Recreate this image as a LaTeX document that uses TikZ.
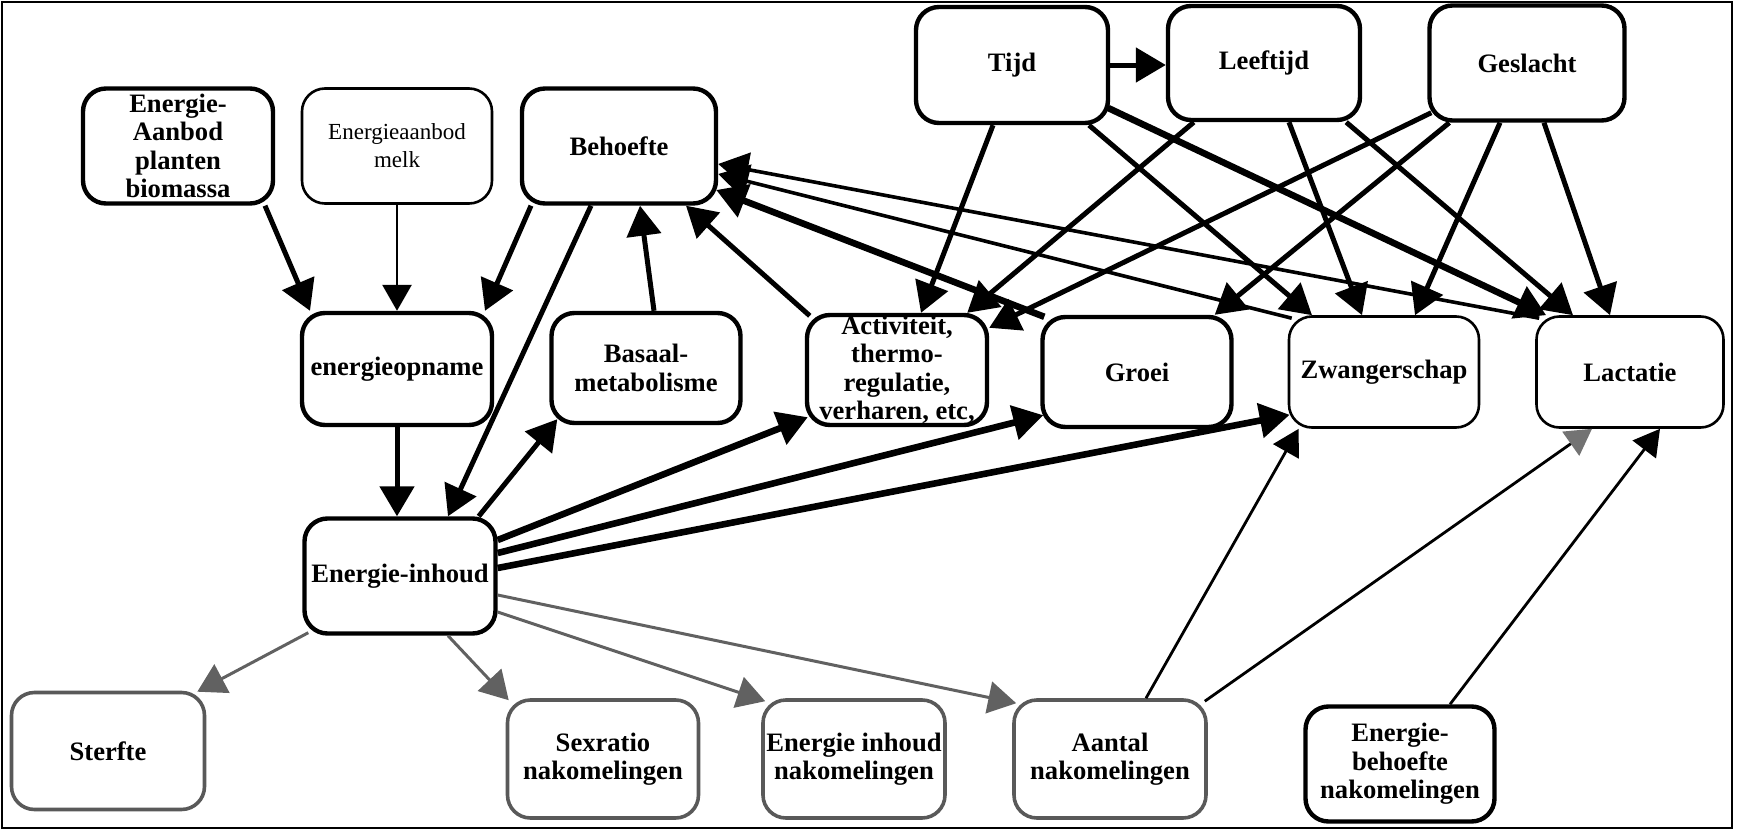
\documentclass[tikz,border=0pt]{standalone}
\usepackage{fontspec}
\setmainfont{Liberation Serif}
\usetikzlibrary{arrows.meta,calc}

\tikzset{
  box/.style={draw, rounded corners=11.5pt, line width=2.2pt,
    minimum width=95pt, minimum height=57.5pt, inner sep=0pt, align=center,
    font=\fontsize{13.3}{14.2}\selectfont\bfseries},
  thinbox/.style={box, line width=1.3pt},
  greybox/.style={box, draw=black!65, line width=1.8pt},
  bigtip/.style={-{Triangle[length=15pt,width=17pt]}},
  smalltip/.style={-{Triangle[length=13pt,width=14.5pt]}},
  thick link/.style={bigtip, line width=2.5pt},
  heavy link/.style={bigtip, line width=3.3pt},
  medium link/.style={bigtip, line width=1.8pt},
  thin link/.style={smalltip, line width=1.4pt},
  grey link/.style={draw=black!62, line width=1.5pt,
    -{Triangle[length=14pt,width=16pt,color=black!62]}},
}

\begin{document}
\begin{tikzpicture}[x=0.5pt, y=-0.5pt]
\useasboundingbox (0,0) rectangle (1741,830);
\draw[line width=1.1pt] (2,2) rectangle (1732,828);

% top row
\node[box] (eapb) at (178,146) {Energie-\\Aanbod\\planten\\biomassa};
\node[thinbox, font=\fontsize{11.5}{14}\selectfont] (melk) at (397,146) {Energieaanbod\\melk};
\node[box, minimum width=97pt] (beh) at (619,146) {Behoefte};
\node[box, minimum width=96pt, minimum height=58pt] (tijd) at (1012,65) {Tijd};
\node[box, minimum width=96pt, minimum height=57pt] (leeft) at (1264,63) {Leeftijd};
\node[box, minimum width=97.5pt] (gesl) at (1527,63) {Geslacht};

% middle row
\node[box, minimum height=56pt] (opn) at (397,369) {energieopname};
\node[box, minimum width=94.5pt, minimum height=55pt] (bas) at (646,368) {Basaal-\\metabolisme};
\node[box, minimum width=90pt, minimum height=55pt] (act) at (897,370) {Activiteit,\\thermo-\\regulatie,\\verharen, etc,};
\node[box, minimum width=94.5pt, minimum height=55pt] (groei) at (1137,372) {Groei};
\node[thinbox, minimum height=55.5pt] (zwang) at (1384,372) {Zwangerschap};
\node[thinbox, minimum width=93.5pt, minimum height=55.5pt] (lact) at (1630,372) {Lactatie};

% energy content
\node[box, minimum width=95.5pt] (einh) at (400,576) {Energie-inhoud};

% bottom row
\node[greybox, minimum width=96.5pt, minimum height=58.5pt] (sterf) at (108,751) {Sterfte};
\node[greybox, minimum width=95.5pt, minimum height=59pt] (sexr) at (603,759) {Sexratio\\nakomelingen};
\node[greybox, minimum width=91pt, minimum height=59pt] (einak) at (854,759) {Energie inhoud\\nakomelingen};
\node[greybox, minimum width=96pt, minimum height=59pt] (aantal) at (1110,759) {Aantal\\nakomelingen};
\node[box, minimum width=94.5pt, minimum height=57.5pt] (ebn) at (1400,764) {Energie-\\behoefte\\nakomelingen};

% intake
\draw[thick link] ($(eapb.south)+(87,0)$) -- ($(opn.north)+(-87,0)$);
\draw[thin link] (melk.south) -- (opn.north);
\draw[thick link] ($(beh.south)+(-88,0)$) -- ($(opn.north)+(88,0)$);
\draw[thick link] ($(beh.south)+(-28,0)$) -- ($(einh.north)+(48,0)$);
\draw[thick link] (opn.south) -- (opn.south |- einh.north);

% requirements
\draw[thick link] ($(bas.north)+(8,0)$) -- ($(beh.south)+(21,0)$);
\draw[thick link] ($(act.north west)+(5,3)$) -- ($(beh.south)+(67,0)$);
\draw[heavy link] ($(groei.north west)+(4,2)$) -- ($(beh.east)+(-2,44)$);
\draw[medium link] ($(zwang.north west)+(4,3)$) -- ($(beh.east)+(0,28)$);
\draw[medium link] ($(lact.north west)+(4,3)$) -- ($(beh.east)+(0,18)$);

% time, age, sex
\draw[thick link] (tijd.east) -- (tijd.east -| leeft.west);
\draw[thick link] ($(tijd.south)+(-19,0)$) -- ($(act.north)+(24,0)$);
\draw[thick link] ($(tijd.south)+(77,0)$) -- ($(zwang.north)+(-72,0)$);
\draw[heavy link] ($(tijd.east)+(-2,43)$) -- ($(lact.north west)+(11,0)$);
\draw[thick link] ($(leeft.south west)+(28,0)$) -- ($(act.north east)+(-22,0)$);
\draw[thick link] ($(leeft.south)+(25,0)$) -- ($(zwang.north)+(-22,0)$);
\draw[thick link] ($(leeft.south east)+(-16,0)$) -- ($(lact.north)+(-57,0)$);
\draw[thick link] ($(gesl.south west)+(4,-10)$) -- ($(act.north east)+(0,15)$);
\draw[thick link] ($(gesl.south west)+(22,0)$) -- ($(groei.north east)+(-19,0)$);
\draw[thick link] ($(gesl.south)+(-27,0)$) -- ($(zwang.north)+(31,0)$);
\draw[thick link] ($(gesl.south)+(17,0)$) -- ($(lact.north)+(-20,0)$);

% allocation of energy content
\draw[thick link] ($(einh.north east)+(-19,0)$) -- ($(bas.south west)+(8,-6)$);
\draw[heavy link] ($(einh.east)+(0,-36)$) -- ($(act.south west)+(3,-10)$);
\draw[heavy link] ($(einh.east)+(0,-23)$) -- ($(groei.south west)+(3,-14)$);
\draw[heavy link] ($(einh.east)+(0,-8)$) -- ($(zwang.south west)+(2,-14)$);

% consequences
\draw[grey link] ($(einh.south west)+(6,-3)$) -- ($(sterf.north east)+(-9,1)$);
\draw[grey link] ($(einh.south)+(48,0)$) -- ($(sexr.north west)+(3,2)$);
\draw[grey link] ($(einh.east)+(0,36)$) -- ($(einak.north west)+(4,3)$);
\draw[grey link] ($(einh.east)+(0,19)$) -- ($(aantal.north west)+(4,5)$);

% offspring
\draw[thin link] ($(aantal.north)+(36,0)$) -- ($(zwang.south west)+(11,0)$);
\draw[line width=1.4pt, -{Triangle[length=13pt,width=14.5pt,color=black!55]}]
  ($(aantal.north east)+(-3,3)$) -- ($(lact.south)+(-38,0)$);
\draw[thin link] ($(ebn.north)+(50,0)$) -- ($(lact.south)+(30,0)$);
\end{tikzpicture}
\end{document}
